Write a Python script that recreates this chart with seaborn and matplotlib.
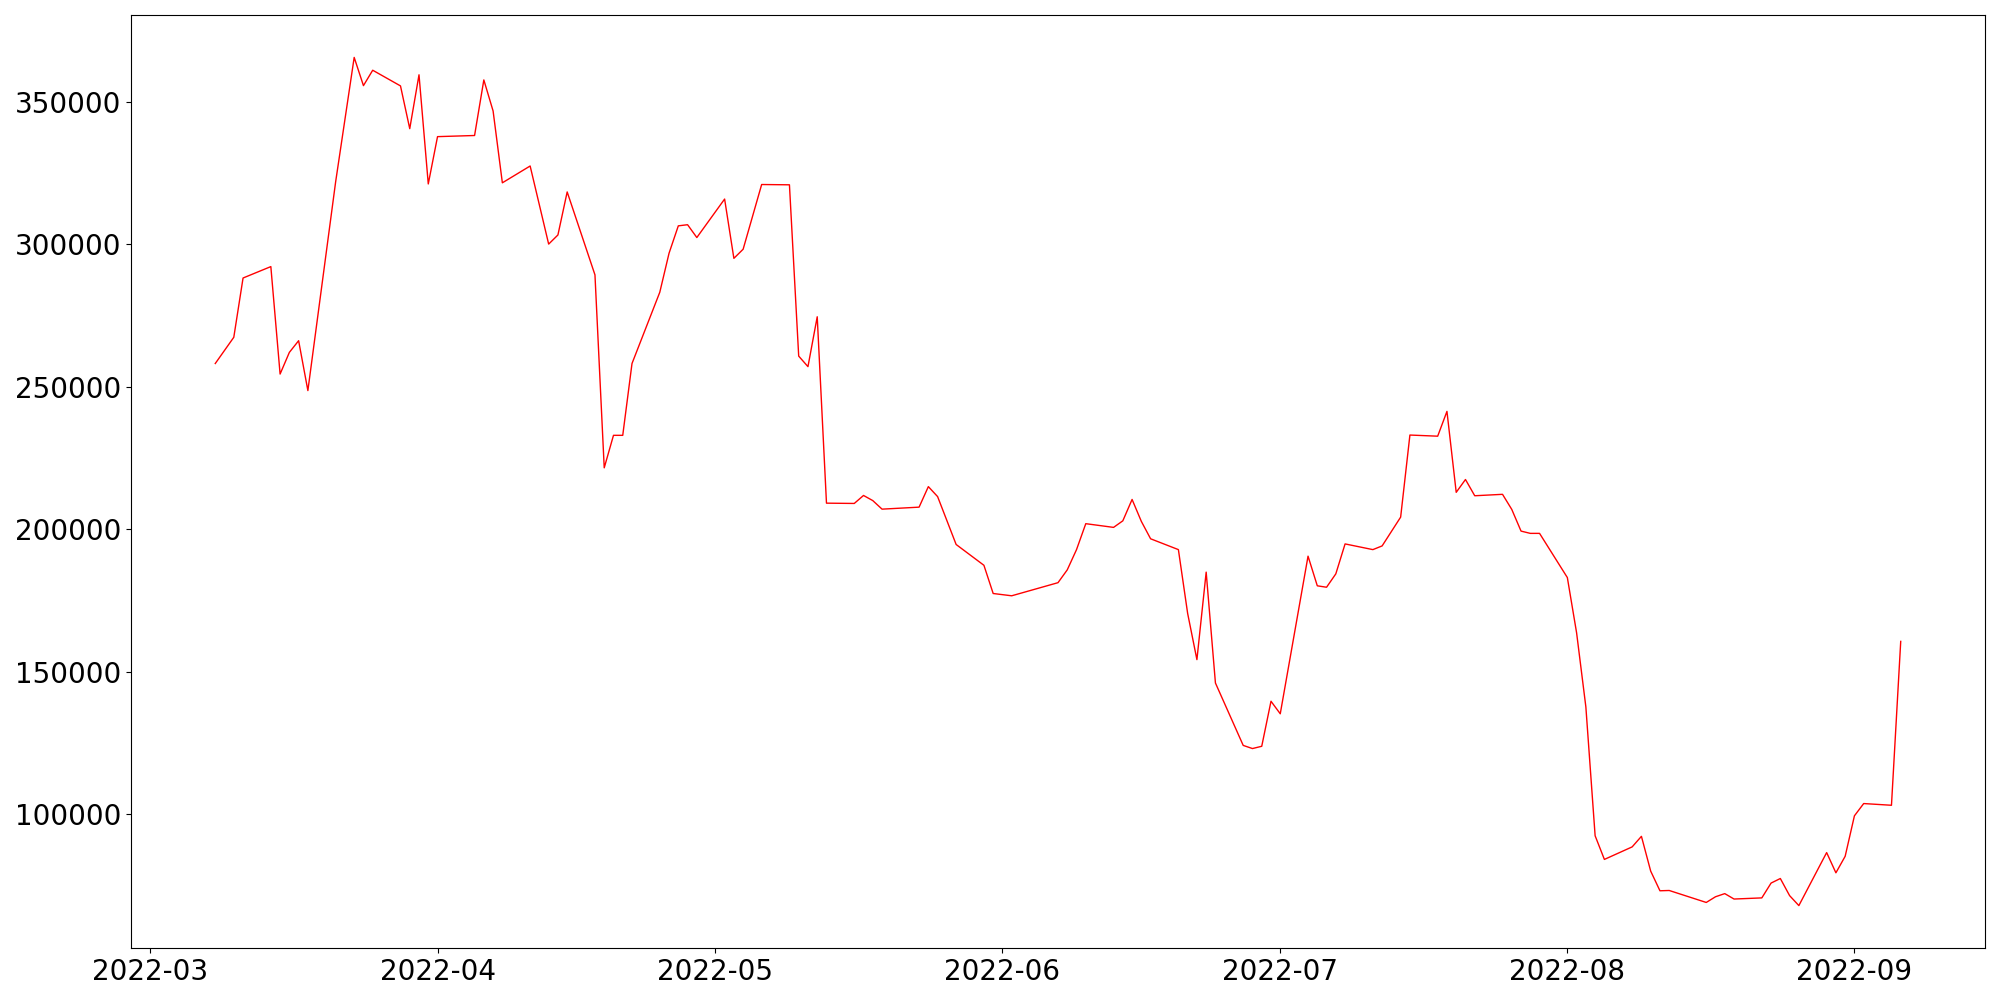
import numpy as np
import pandas as pd
import matplotlib
matplotlib.use("Agg")
import matplotlib.pyplot as plt
import seaborn as sns

# 日期与数值
dates = [
    "2022-03-08", "2022-03-10", "2022-03-11", "2022-03-14", "2022-03-15", "2022-03-16",
    "2022-03-17", "2022-03-18", "2022-03-21", "2022-03-23", "2022-03-24", "2022-03-25",
    "2022-03-28", "2022-03-29", "2022-03-30", "2022-03-31", "2022-04-01", "2022-04-05",
    "2022-04-06", "2022-04-07", "2022-04-08", "2022-04-11", "2022-04-13", "2022-04-14",
    "2022-04-15", "2022-04-18", "2022-04-19", "2022-04-20", "2022-04-21", "2022-04-22",
    "2022-04-25", "2022-04-26", "2022-04-27", "2022-04-28", "2022-04-29", "2022-05-02",
    "2022-05-03", "2022-05-04", "2022-05-06", "2022-05-09", "2022-05-10", "2022-05-11",
    "2022-05-12", "2022-05-13", "2022-05-16", "2022-05-17", "2022-05-18", "2022-05-19",
    "2022-05-23", "2022-05-24", "2022-05-25", "2022-05-27", "2022-05-30", "2022-05-31",
    "2022-06-02", "2022-06-07", "2022-06-08", "2022-06-09", "2022-06-10", "2022-06-13",
    "2022-06-14", "2022-06-15", "2022-06-16", "2022-06-17", "2022-06-20", "2022-06-21",
    "2022-06-22", "2022-06-23", "2022-06-24", "2022-06-27", "2022-06-28", "2022-06-29",
    "2022-06-30", "2022-07-01", "2022-07-04", "2022-07-05", "2022-07-06", "2022-07-07",
    "2022-07-08", "2022-07-11", "2022-07-12", "2022-07-14", "2022-07-15", "2022-07-18",
    "2022-07-19", "2022-07-20", "2022-07-21", "2022-07-22", "2022-07-25", "2022-07-26",
    "2022-07-27", "2022-07-28", "2022-07-29", "2022-08-01", "2022-08-02", "2022-08-03",
    "2022-08-04", "2022-08-05", "2022-08-08", "2022-08-09", "2022-08-10", "2022-08-11",
    "2022-08-12", "2022-08-16", "2022-08-17", "2022-08-18", "2022-08-19", "2022-08-22",
    "2022-08-23", "2022-08-24", "2022-08-25", "2022-08-26", "2022-08-29", "2022-08-30",
    "2022-08-31", "2022-09-01", "2022-09-02", "2022-09-05", "2022-09-06",
]

values = [
    258200, 267400, 288200, 292200, 254500, 262100,
    266200, 248700, 322000, 365600, 355700, 361100,
    355600, 340600, 359500, 321200, 337800, 338200,
    357700, 346800, 321600, 327500, 300100, 303300,
    318400, 289300, 221600, 233000, 233000, 258200,
    283200, 296900, 306500, 306900, 302400, 315900,
    295100, 298300, 321000, 320900, 260800, 257100,
    274600, 209200, 209100, 211900, 210100, 207100,
    207800, 215000, 211500, 194700, 187400, 177500,
    176700, 181300, 185800, 192900, 202000, 200700,
    203000, 210500, 202800, 196700, 192900, 170500,
    154300, 185000, 146100, 124200, 123100, 123900,
    139700, 135300, 190600, 180200, 179700, 184400,
    194900, 192900, 194200, 204300, 233100, 232700,
    241400, 213000, 217500, 211800, 212300, 207000,
    199400, 198600, 198600, 183100, 163700, 137700,
    92500, 84200, 88600, 92300, 80100, 73200,
    73300, 69100, 71100, 72200, 70300, 70700,
    75900, 77500, 71500, 68000, 86600, 79500,
    85300, 99500, 103800, 103200, 160700,
]

data = pd.DataFrame({"date": pd.to_datetime(dates), "value": values})

fig, ax = plt.subplots(figsize=(20, 10), dpi=100)

sns.lineplot(data=data, x="date", y="value", color="red", linewidth=1, ax=ax)

ax.set_xlabel("")
ax.set_ylabel("")
ax.tick_params(labelsize=20)

plt.subplots_adjust(left=0.0655, right=0.9925, top=0.985, bottom=0.052)
plt.savefig("out.png")
